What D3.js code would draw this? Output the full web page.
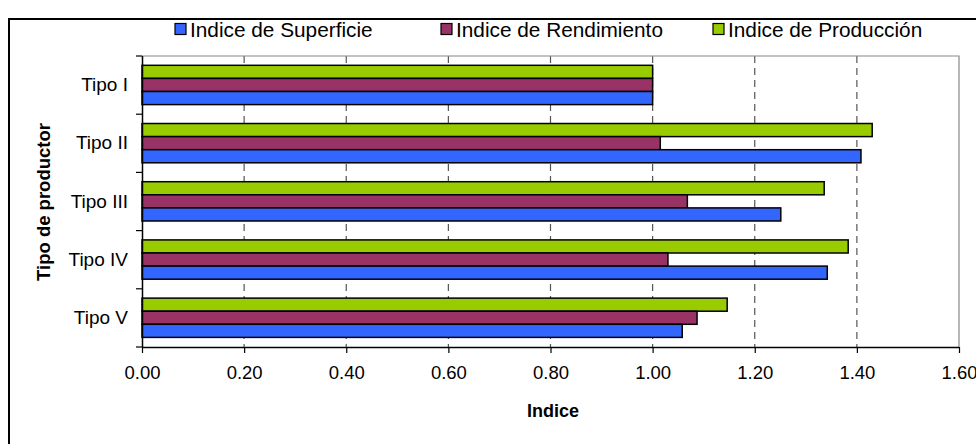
<!DOCTYPE html>
<html>
<head>
<meta charset="utf-8">
<script src="https://cdn.jsdelivr.net/npm/d3@7"></script>
<style>
  html, body { margin: 0; padding: 0; background: #fff; }
  svg { display: block; font-family: "Liberation Sans", Arial, sans-serif; }
</style>
</head>
<body>
<svg id="chart" width="976" height="444"></svg>
<script>
// ---- data ----
const categories = ["Tipo I", "Tipo II", "Tipo III", "Tipo IV", "Tipo V"];
const seriesNames = ["Indice de Superficie", "Indice de Rendimiento", "Indice de Producción"];
const superficie = [1.00, 1.408, 1.251, 1.342, 1.058];
const rendimiento = [1.00, 1.015, 1.068, 1.030, 1.087];
const produccion = [1.00, 1.430, 1.336, 1.383, 1.146];
const xTicks = [0, 0.2, 0.4, 0.6, 0.8, 1.0, 1.2, 1.4, 1.6];
const colors = ["#3366FF", "#993366", "#99CC00"];

const seriesValues = [superficie, rendimiento, produccion];

const svg = d3.select("#chart");

// outer frame
svg.append("rect").attr("x", 9).attr("y", 19).attr("width", 1000).attr("height", 500)
  .attr("fill", "none").attr("stroke", "#000").attr("stroke-width", 2);

const plot = { left: 142, right: 959, top: 56, bottom: 347 };

const x = d3.scaleLinear().domain([0, 1.6]).range([plot.left, plot.right]);
const y0 = d3.scaleBand().domain(categories).range([plot.top, plot.bottom]).padding(0);
const bw = y0.bandwidth();
// bars drawn top to bottom: Producción, Rendimiento, Superficie
const drawOrder = [2, 1, 0];
const y1 = d3.scaleBand().domain(drawOrder).range([bw * 0.16, bw * 0.835]).padding(0);

// gridlines (dashed)
svg.append("g").selectAll("line").data(xTicks.slice(1, -1)).join("line")
  .attr("x1", d => x(d)).attr("x2", d => x(d))
  .attr("y1", plot.top).attr("y2", plot.bottom)
  .attr("stroke", "#555").attr("stroke-width", 1.2).attr("stroke-dasharray", "7,5");

// plot border top/right gray
svg.append("path")
  .attr("d", `M${plot.left},${plot.top}H${plot.right}V${plot.bottom}`)
  .attr("fill", "none").attr("stroke", "#888").attr("stroke-width", 1.2);

// bars
const groups = svg.append("g").selectAll("g").data(categories).join("g")
  .attr("transform", c => `translate(0,${y0(c)})`);
groups.selectAll("rect").data((c, i) => drawOrder.map(s => ({ s, v: seriesValues[s][i] })))
  .join("rect")
  .attr("x", x(0))
  .attr("y", d => y1(d.s))
  .attr("width", d => x(d.v) - x(0))
  .attr("height", y1.bandwidth())
  .attr("fill", d => colors[d.s])
  .attr("stroke", "#000").attr("stroke-width", 1.5);

// x axis
const xAxis = d3.axisBottom(x).tickValues(xTicks).tickFormat(d3.format(".2f")).tickSize(6).tickPadding(13);
const gx = svg.append("g").attr("transform", `translate(0,${plot.bottom})`).call(xAxis);
gx.select(".domain").attr("stroke", "#000").attr("stroke-width", 1.5).attr("d", `M${plot.left},0.5H${plot.right}`);
gx.selectAll(".tick line").attr("stroke", "#000").attr("stroke-width", 1.2);
gx.selectAll("text").attr("font-size", 18.5).attr("fill", "#000").attr("font-family", "Liberation Sans, Arial, sans-serif");

// y axis
const yAxis = d3.axisLeft(y0).tickSize(0).tickPadding(14);
const gy = svg.append("g").attr("transform", `translate(${plot.left},0)`).call(yAxis);
gy.select(".domain").attr("stroke", "#000").attr("stroke-width", 1.5).attr("d", `M0.5,${plot.top}V${plot.bottom}`);
gy.selectAll("text").attr("font-size", 19).attr("fill", "#000").attr("font-family", "Liberation Sans, Arial, sans-serif");
// category boundary ticks
svg.append("g").selectAll("line").data(d3.range(categories.length + 1)).join("line")
  .attr("x1", plot.left - 6).attr("x2", plot.left)
  .attr("y1", i => plot.top + i * bw).attr("y2", i => plot.top + i * bw)
  .attr("stroke", "#000").attr("stroke-width", 1.2);

// axis titles
svg.append("text").attr("x", 553).attr("y", 417).attr("text-anchor", "middle")
  .attr("font-size", 18).attr("font-weight", "bold").text("Indice");
svg.append("text").attr("transform", "translate(50,202) rotate(-90)").attr("text-anchor", "middle")
  .attr("font-size", 18.5).attr("font-weight", "bold").text("Tipo de productor");

// legend
const legendX = [175, 441, 713];
const lg = svg.append("g").selectAll("g").data(seriesNames).join("g")
  .attr("transform", (d, i) => `translate(${legendX[i]},29)`);
lg.append("rect").attr("x", 0).attr("y", -5.5).attr("width", 11).attr("height", 11)
  .attr("fill", (d, i) => colors[i]).attr("stroke", "#000").attr("stroke-width", 1.2);
lg.append("text").attr("x", 15).attr("y", 7.5).attr("font-size", 20.8).text(d => d);
</script>
</body>
</html>
